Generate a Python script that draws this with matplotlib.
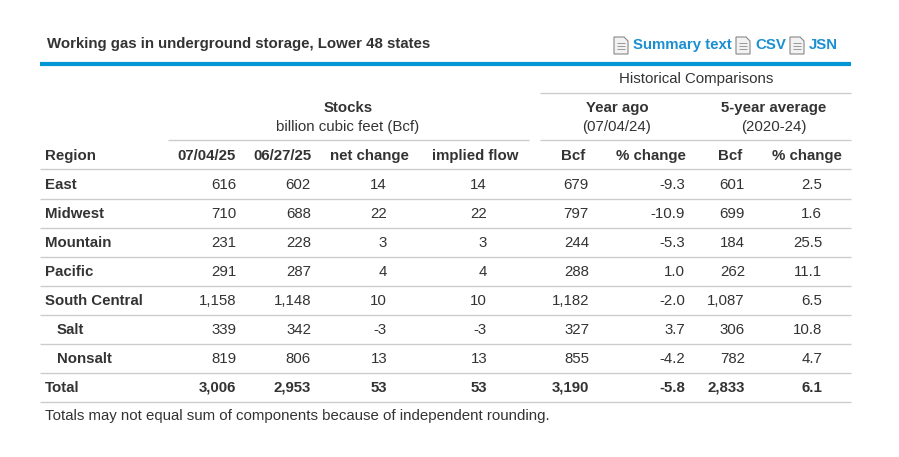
import matplotlib
matplotlib.use("Agg")
import matplotlib.pyplot as plt
from matplotlib.patches import Polygon

regions = ["East", "Midwest", "Mountain", "Pacific", "South Central", "Salt", "Nonsalt", "Total"]
stocks_cur = ["616", "710", "231", "291", "1,158", "339", "819", "3,006"]
stocks_prev = ["602", "688", "228", "287", "1,148", "342", "806", "2,953"]
net_change = ["14", "22", "3", "4", "10", "-3", "13", "53"]
implied_flow = ["14", "22", "3", "4", "10", "-3", "13", "53"]
yr_bcf = ["679", "797", "244", "288", "1,182", "327", "855", "3,190"]
yr_pct = ["-9.3", "-10.9", "-5.3", "1.0", "-2.0", "3.7", "-4.2", "-5.8"]
avg_bcf = ["601", "699", "184", "262", "1,087", "306", "782", "2,833"]
avg_pct = ["2.5", "1.6", "25.5", "11.1", "6.5", "10.8", "4.7", "6.1"]

plt.rcParams["font.family"] = "Liberation Sans"
fig = plt.figure(figsize=(8.99, 4.57), dpi=100)
ax = fig.add_axes([0, 0, 1, 1])
ax.set_xlim(0, 899); ax.set_ylim(457, 0); ax.axis("off")
TXT = "#333333"; GRID = "#cccccc"; BLUE = "#1a8fd1"
FS = 10.8

def t(x, y, s, ha="left", bold=False, color=TXT, fs=FS):
    ax.text(x, y + 1, s, ha=ha, va="center", fontsize=fs, color=color,
            fontweight="bold" if bold else "normal")

def hl(x0, x1, y, c=GRID, lw=1):
    ax.plot([x0, x1], [y, y], color=c, lw=lw, solid_capstyle="butt")

t(47, 43, "Working gas in underground storage, Lower 48 states", bold=True)
for x, s in [(633, "Summary text"), (755, "CSV"), (809, "JSN")]:
    ix0 = x - 19
    ax.add_patch(Polygon([[ix0, 37], [ix0 + 10, 37], [ix0 + 14, 41], [ix0 + 14, 54], [ix0, 54]],
                         closed=True, fc="#f2f2f2", ec="#888888", lw=0.8))
    for yy in (43, 46, 49):
        hl(ix0 + 3, ix0 + 11, yy, c="#999999", lw=0.7)
    t(x, 44, s, bold=True, color=BLUE)

hl(40, 851, 64, c="#0096d6", lw=3)
t(696, 78, "Historical Comparisons", ha="center")
hl(540, 851, 93)
t(348, 107, "Stocks", ha="center", bold=True)
t(348, 126, "billion cubic feet (Bcf)", ha="center")
t(617, 107, "Year ago", ha="center", bold=True)
t(617, 126, "(07/04/24)", ha="center")
t(774, 107, "5-year average", ha="center", bold=True)
t(774, 126, "(2020-24)", ha="center")
hl(168, 529, 140)
hl(540, 851, 140)

t(45, 155, "Region", bold=True)
heads = [(236, "07/04/25"), (311, "06/27/25"), (409, "net change"), (518, "implied flow"),
         (585, "Bcf"), (686, "% change"), (742, "Bcf"), (842, "% change")]
for x, s in heads:
    t(x, 155, s, ha="right", bold=True)
hl(40, 851, 169)

cols = [(236, stocks_cur), (311, stocks_prev), (387, net_change), (487, implied_flow),
        (589, yr_bcf), (685, yr_pct), (745, avg_bcf), (822, avg_pct)]
for i, r in enumerate(regions):
    y = 184 + i * 29
    indent = 57 if r in ("Salt", "Nonsalt") else 45
    bold_row = r == "Total"
    t(indent, y, r, bold=True)
    for x, vals in cols:
        t(x, y, vals[i], ha="right", bold=bold_row)
    hl(40, 851, y + 15)

t(45, 415, "Totals may not equal sum of components because of independent rounding.")
fig.savefig("out.png", dpi=100)
